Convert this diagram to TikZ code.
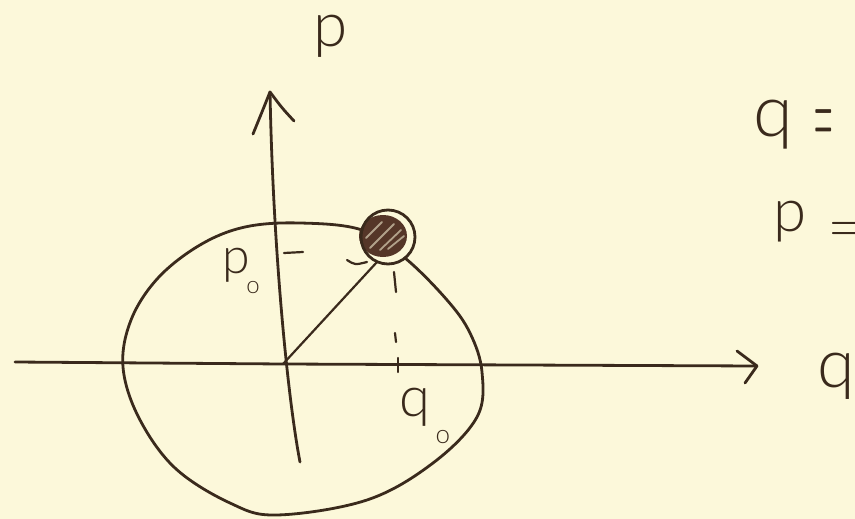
\documentclass[tikz,border=0pt]{standalone}
\usepackage{fontspec}
\setmainfont{Lato Light}
\newfontfamily\lmfont{lmroman10-regular.otf}
\begin{document}
\begin{tikzpicture}[x=1pt,y=-1pt,
  ink/.style={draw=inkc,line width=2.8pt,line cap=round,line join=round},
  thin/.style={draw=inkc,line width=2.2pt,line cap=round},
  lbl/.style={text=inkc,inner sep=0pt,anchor=base}]
\definecolor{bgc}{HTML}{FCF8DA}
\definecolor{inkc}{HTML}{3A2A1C}
\definecolor{blobc}{HTML}{553628}
\fill[bgc] (0,0) rectangle (855,519);
\useasboundingbox (0,0) rectangle (855,519);
% coordinates
\coordinate (O) at (283,364);
\coordinate (qstart) at (15,362);
\coordinate (qtip) at (757,366);
\coordinate (pbot) at (300,462);
\coordinate (ptip) at (270,92);
\coordinate (S) at (388,237);
% orbit
\draw[ink] plot[smooth cycle,tension=0.6] coordinates{
 (123,367) (131,320) (158,278) (200,245) (245,227) (300,223) (362,230)
 (405,258) (447,300) (470,333) (482,372) (477,417) (433,463) (367,500)
 (277,515) (230,503) (175,468) (139,418)};
% q axis
\draw[ink] (qstart) .. controls (150,363) .. (O) -- (qtip);
\draw[ink] (737,351) -- (qtip) -- (745,383);
% p axis
\draw[ink] (pbot) .. controls (288,400) and (273,250) .. (ptip);
\draw[ink] (253,134) .. controls (262,112) .. (ptip) .. controls (282,108) .. (294,121);
% radius line
\draw[thin] (O) -- (377,262);
% dashed guides
\draw[thin] (284,253) -- (303,252);
\draw[thin] (347,260) .. controls (355,265) .. (367,262);
\draw[thin] (394,272) -- (396,292);
\draw[thin] (395,333) -- (396,342);
\draw[thin] (398,358) -- (398,372);
% phase point
\fill[bgc] (S) circle (27);
\fill[blobc] (383,236) ellipse (24 and 21);
\draw[bgc!55!blobc,line width=1.8pt,line cap=round]
  (370,248) -- (394,224) (380,250) -- (401,230) (366,238) -- (382,222) (388,249) -- (404,236);
\draw[ink] (S) circle (27);
% labels
\node[lbl,font=\fontsize{62}{62}\selectfont] (plab) at (331,47) {p};
\node[lbl,font=\fontsize{68}{68}\selectfont] (qlab) at (836,387) {q};
\node[lbl,font=\fontsize{56}{56}\selectfont] (q0) at (415,416) {q};
\node[lbl,font=\fontsize{26}{26}\selectfont] (q0s) at (443,443) {o};
\node[lbl,font=\fontsize{50}{50}\selectfont] (p0) at (236,273) {p};
\node[lbl,font=\fontsize{24}{24}\selectfont] (p0s) at (253,293) {o};
\node[lbl,font=\fontsize{72}{72}\selectfont] (qeq) at (773,136) {q};
\node[lbl,font=\lmfont\fontsize{95}{95}\selectfont,anchor=base west] (eq1) at (814,145) {\scalebox{0.25}[1]{=}};
\node[lbl,font=\fontsize{60}{60}\selectfont] (peq) at (790,231) {p};
\node[lbl,font=\lmfont\fontsize{52}{52}\selectfont,anchor=base west] (eq2) at (830,241) {\scalebox{0.7}[1]{=}};
\end{tikzpicture}
\end{document}
